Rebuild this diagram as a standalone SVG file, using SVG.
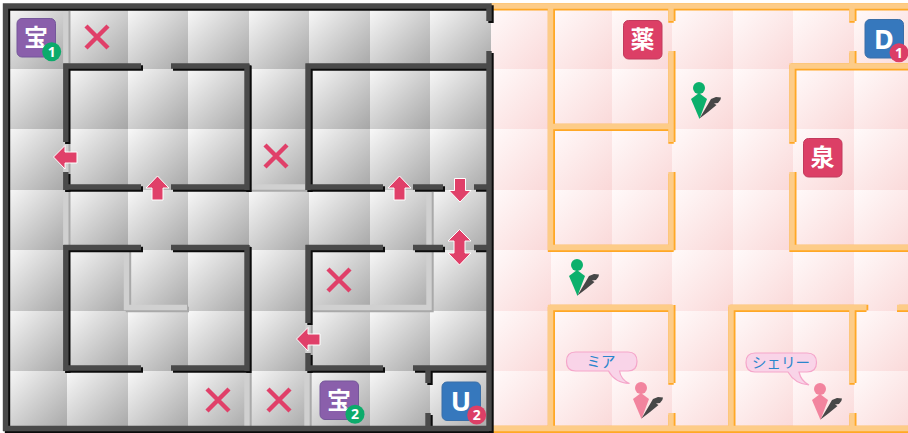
<svg xmlns="http://www.w3.org/2000/svg" width="908" height="433" viewBox="0 0 908 433">
<style>
.g{fill:url(#gt)}
.p{fill:url(#pt)}
.ws,.wf,.ls,.lf,.os,.of{fill:none;stroke-width:5.4;stroke-linejoin:miter;stroke-linecap:butt}
.ws{stroke:#0c0c0c}.wf{stroke:#4a4a4a}
.ls{stroke:#a9a9a9}.lf{stroke:#d0d0d0}
.os{stroke:#ffa826}.of{stroke:#fdcc88}
.tile{fill:#8a5fab;stroke:#74579a;stroke-width:1}
.blue{fill:#3678bd;stroke:#3a6fa8;stroke-width:1}
.red{fill:#dc3f66;stroke:#c23a5c;stroke-width:1}
.lab{font-family:"Noto Sans CJK JP","Noto Sans",sans-serif;font-weight:700;fill:#fff;text-anchor:middle;font-size:24px}
.big{font-family:"Noto Sans","Liberation Sans",sans-serif;font-weight:700;fill:#fff;text-anchor:middle;font-size:27px}
.num{font-family:"Noto Sans","Liberation Sans",sans-serif;font-weight:700;fill:#fff;text-anchor:middle;font-size:14px}
.x{stroke:#e04069;stroke-width:4.4;fill:none}
.arrow{fill:#e04069;stroke:#fff;stroke-width:1}
.shadow{fill:#474747}
.bub{fill:#f9d4e8;stroke:#f5a6ca;stroke-width:1.2}
.say{font-family:"Noto Sans CJK JP",sans-serif;font-size:14.500px;fill:#2a86cc;text-anchor:middle}
</style>
<defs>
<linearGradient id="gt" x1="0" y1="0" x2="1" y2="1"><stop offset="0" stop-color="#f8f8f8"/><stop offset="1" stop-color="#a6a6a6"/></linearGradient>
<linearGradient id="pt" x1="0" y1="0" x2="1" y2="1"><stop offset="0" stop-color="#fffafa"/><stop offset="1" stop-color="#fad8d8"/></linearGradient>
<path id="dark" d="M5.5 431V6H489V21M489 51V431M3 428.5H489M65.8 63.5V142M65.8 172V190M63.5 66H141M171 66H249M247 63.5V190M63.5 187H141M171 187H249M308 63.5V190M305.5 66H489M305.5 187H383M413 187H443M474 187H489M65.8 245V371M63.5 247.5H141M171 247.5H249M247 245V371M63.5 368H141M171 368H249M308 245V323M308 353V371M305.5 247.5H383M413 247.5H443M474 247.5H489M305.5 368H383M413 368H489M428 366V383M428 413V428"/>
<path id="light" d="M65.8 9V63M65.8 142V172M65.8 190V245M249 187H305M126.5 250V307.5H187M429 190V307.5H311M308 323V353M247 371V426M307 371V426"/>
<path id="orange" d="M490 6H908M490 428.5H908M550.5 6V250M550.5 305V426M671 6V21M671 51V142M671 172V250M548 126.5H671M548 247.5H673.5M671 305V383M671 413V426M548 307.5H671M731 305V426M728.5 307.5H866.5M897 307.5H908M852 307V383M852 413V426M852 6V21M852 51V66M792 63.5V142M792 172V250M789.5 66H908M789.5 247.5H908"/>
<path id="sh" d="M0.500 30.500L8.500 17L12 11L17 9L22 9.500Q22 12.500 19 15L15 15.500L17.500 17L9 24Z"/>
</defs>
<rect width="908" height="433" fill="#fff"/>
<g id="floor-left">
<rect class="g" x="7" y="9" width="60" height="60"/><rect class="g" x="67" y="9" width="61" height="60"/><rect class="g" x="128" y="9" width="60" height="60"/><rect class="g" x="188" y="9" width="61" height="60"/><rect class="g" x="249" y="9" width="60" height="60"/><rect class="g" x="309" y="9" width="61" height="60"/><rect class="g" x="370" y="9" width="60" height="60"/><rect class="g" x="430" y="9" width="61" height="60"/>
<rect class="g" x="7" y="69" width="60" height="60"/><rect class="g" x="67" y="69" width="61" height="60"/><rect class="g" x="128" y="69" width="60" height="60"/><rect class="g" x="188" y="69" width="61" height="60"/><rect class="g" x="249" y="69" width="60" height="60"/><rect class="g" x="309" y="69" width="61" height="60"/><rect class="g" x="370" y="69" width="60" height="60"/><rect class="g" x="430" y="69" width="61" height="60"/>
<rect class="g" x="7" y="129" width="60" height="61"/><rect class="g" x="67" y="129" width="61" height="61"/><rect class="g" x="128" y="129" width="60" height="61"/><rect class="g" x="188" y="129" width="61" height="61"/><rect class="g" x="249" y="129" width="60" height="61"/><rect class="g" x="309" y="129" width="61" height="61"/><rect class="g" x="370" y="129" width="60" height="61"/><rect class="g" x="430" y="129" width="61" height="61"/>
<rect class="g" x="7" y="190" width="60" height="60"/><rect class="g" x="67" y="190" width="61" height="60"/><rect class="g" x="128" y="190" width="60" height="60"/><rect class="g" x="188" y="190" width="61" height="60"/><rect class="g" x="249" y="190" width="60" height="60"/><rect class="g" x="309" y="190" width="61" height="60"/><rect class="g" x="370" y="190" width="60" height="60"/><rect class="g" x="430" y="190" width="61" height="60"/>
<rect class="g" x="7" y="250" width="60" height="61"/><rect class="g" x="67" y="250" width="61" height="61"/><rect class="g" x="128" y="250" width="60" height="61"/><rect class="g" x="188" y="250" width="61" height="61"/><rect class="g" x="249" y="250" width="60" height="61"/><rect class="g" x="309" y="250" width="61" height="61"/><rect class="g" x="370" y="250" width="60" height="61"/><rect class="g" x="430" y="250" width="61" height="61"/>
<rect class="g" x="7" y="311" width="60" height="60"/><rect class="g" x="67" y="311" width="61" height="60"/><rect class="g" x="128" y="311" width="60" height="60"/><rect class="g" x="188" y="311" width="61" height="60"/><rect class="g" x="249" y="311" width="60" height="60"/><rect class="g" x="309" y="311" width="61" height="60"/><rect class="g" x="370" y="311" width="60" height="60"/><rect class="g" x="430" y="311" width="61" height="60"/>
<rect class="g" x="7" y="371" width="60" height="60"/><rect class="g" x="67" y="371" width="61" height="60"/><rect class="g" x="128" y="371" width="60" height="60"/><rect class="g" x="188" y="371" width="61" height="60"/><rect class="g" x="249" y="371" width="60" height="60"/><rect class="g" x="309" y="371" width="61" height="60"/><rect class="g" x="370" y="371" width="60" height="60"/><rect class="g" x="430" y="371" width="61" height="60"/>
</g>
<g id="floor-right">
<rect class="p" x="491" y="9" width="60" height="60"/><rect class="p" x="551" y="9" width="61" height="60"/><rect class="p" x="612" y="9" width="60" height="60"/><rect class="p" x="672" y="9" width="61" height="60"/><rect class="p" x="733" y="9" width="60" height="60"/><rect class="p" x="793" y="9" width="61" height="60"/><rect class="p" x="854" y="9" width="60" height="60"/>
<rect class="p" x="491" y="69" width="60" height="60"/><rect class="p" x="551" y="69" width="61" height="60"/><rect class="p" x="612" y="69" width="60" height="60"/><rect class="p" x="672" y="69" width="61" height="60"/><rect class="p" x="733" y="69" width="60" height="60"/><rect class="p" x="793" y="69" width="61" height="60"/><rect class="p" x="854" y="69" width="60" height="60"/>
<rect class="p" x="491" y="129" width="60" height="61"/><rect class="p" x="551" y="129" width="61" height="61"/><rect class="p" x="612" y="129" width="60" height="61"/><rect class="p" x="672" y="129" width="61" height="61"/><rect class="p" x="733" y="129" width="60" height="61"/><rect class="p" x="793" y="129" width="61" height="61"/><rect class="p" x="854" y="129" width="60" height="61"/>
<rect class="p" x="491" y="190" width="60" height="60"/><rect class="p" x="551" y="190" width="61" height="60"/><rect class="p" x="612" y="190" width="60" height="60"/><rect class="p" x="672" y="190" width="61" height="60"/><rect class="p" x="733" y="190" width="60" height="60"/><rect class="p" x="793" y="190" width="61" height="60"/><rect class="p" x="854" y="190" width="60" height="60"/>
<rect class="p" x="491" y="250" width="60" height="61"/><rect class="p" x="551" y="250" width="61" height="61"/><rect class="p" x="612" y="250" width="60" height="61"/><rect class="p" x="672" y="250" width="61" height="61"/><rect class="p" x="733" y="250" width="60" height="61"/><rect class="p" x="793" y="250" width="61" height="61"/><rect class="p" x="854" y="250" width="60" height="61"/>
<rect class="p" x="491" y="311" width="60" height="60"/><rect class="p" x="551" y="311" width="61" height="60"/><rect class="p" x="612" y="311" width="60" height="60"/><rect class="p" x="672" y="311" width="61" height="60"/><rect class="p" x="733" y="311" width="60" height="60"/><rect class="p" x="793" y="311" width="61" height="60"/><rect class="p" x="854" y="311" width="60" height="60"/>
<rect class="p" x="491" y="371" width="60" height="60"/><rect class="p" x="551" y="371" width="61" height="60"/><rect class="p" x="612" y="371" width="60" height="60"/><rect class="p" x="672" y="371" width="61" height="60"/><rect class="p" x="733" y="371" width="60" height="60"/><rect class="p" x="793" y="371" width="61" height="60"/><rect class="p" x="854" y="371" width="60" height="60"/>
</g>
<g id="walls">
<use href="#orange" class="os" transform="translate(0 1.8)"/>
<use href="#orange" class="os" transform="translate(1.8 0)"/>
<use href="#orange" class="of"/>
<use href="#light" class="ls" transform="translate(2 2)"/>
<use href="#light" class="lf"/>
<use href="#dark" class="ws" transform="translate(2 2)"/>
<use href="#dark" class="wf"/>
</g>
<g id="marks">
<path class="x" d="M86 26L108 48M108 26L86 48"/>
<path class="x" d="M265 145L287 167M287 145L265 167"/>
<path class="x" d="M328 269L350 291M350 269L328 291"/>
<path class="x" d="M207 389L229 411M229 389L207 411"/>
<path class="x" d="M268 389L290 411M290 389L268 411"/>
</g>
<g id="arrows">
<path class="arrow" d="M53.5 157L65 145.5V152H77V163H65V169Z"/>
<path class="arrow" d="M296.500 339L308 327.500V334H320V345H308V351Z"/>
<path class="arrow" d="M157.500 176L169 188H163V200H152V188H146Z"/>
<path class="arrow" d="M399.500 176L411 188H405V200H394V188H388Z"/>
<path class="arrow" d="M460 202L471 190.500H465.500V178.500H454.500V190.500H449Z"/>
<path class="arrow" d="M459.500 229.500L471 241H465V253H471L459.500 265L448 253H454V241H448Z"/>
</g>
<g id="treasure-1"><rect class="tile" x="17" y="18.500" width="38.500" height="38.500" rx="5"/><text class="lab" x="36" y="46">宝</text><circle cx="51.700" cy="51.700" r="9.500" fill="#0cab6b"/><text class="num" x="51.700" y="56.700">1</text></g>
<g id="treasure-2"><rect class="tile" x="320" y="381" width="38.500" height="38.500" rx="5"/><text class="lab" x="339" y="408.500">宝</text><circle cx="355" cy="414.300" r="9.500" fill="#0cab6b"/><text class="num" x="355" y="419.300">2</text></g>
<g id="stairs-u"><rect class="blue" x="442" y="382" width="38.500" height="38.500" rx="5"/><text class="big" x="461" y="411">U</text><circle cx="476.700" cy="415" r="9.500" fill="#dc3f66"/><text class="num" x="476.700" y="420">2</text></g>
<g id="stairs-d"><rect class="blue" x="865" y="19.500" width="38.500" height="38.500" rx="5"/><text class="big" x="884" y="48.500">D</text><circle cx="899" cy="52.700" r="9.500" fill="#dc3f66"/><text class="num" x="899" y="57.700">1</text></g>
<g id="medicine"><rect class="red" x="623.500" y="20.500" width="38.500" height="38.500" rx="5"/><text class="lab" x="642.500" y="48">薬</text></g>
<g id="spring"><rect class="red" x="803.500" y="138.500" width="38.500" height="38.500" rx="5"/><text class="lab" x="822.500" y="166">泉</text></g>
<g id="person-1"><circle cx="577" cy="265" r="6" fill="#0cb06c"/><path d="M577 270L585 276L577.500 296L569 276Z" fill="#0cb06c"/><use href="#sh" class="shadow" x="577" y="265"/></g>
<g id="person-2"><circle cx="699" cy="88" r="6" fill="#0cb06c"/><path d="M699 93L707 99L699.500 119L691 99Z" fill="#0cb06c"/><use href="#sh" class="shadow" x="699" y="88"/></g>
<g id="person-mia"><circle cx="641" cy="388" r="6" fill="#f2849e"/><path d="M641 393L649 399L641.500 419L633 399Z" fill="#f2849e"/><use href="#sh" class="shadow" x="641" y="388"/>
<path class="bub" d="M575.500 352H628Q637 352 637 361.500Q637 371 628 371H619.500Q621 380 629.500 383.500Q615 383 608.500 371H575.500Q566.500 371 566.500 361.500Q566.500 352 575.500 352Z"/><text class="say" x="601" y="366.500">ミア</text></g>
<g id="person-sherry"><circle cx="820" cy="389" r="6" fill="#f2849e"/><path d="M820 394L828 400L820.500 420L812 400Z" fill="#f2849e"/><use href="#sh" class="shadow" x="820" y="389"/>
<path class="bub" d="M755 353H807Q816.500 353 816.500 362.500Q816.500 372 807 372H799Q801 381 809 385Q795 384 788 372H755Q746 372 746 362.500Q746 353 755 353Z"/><text class="say" x="781" y="367.500">シェリー</text></g>
</svg>
